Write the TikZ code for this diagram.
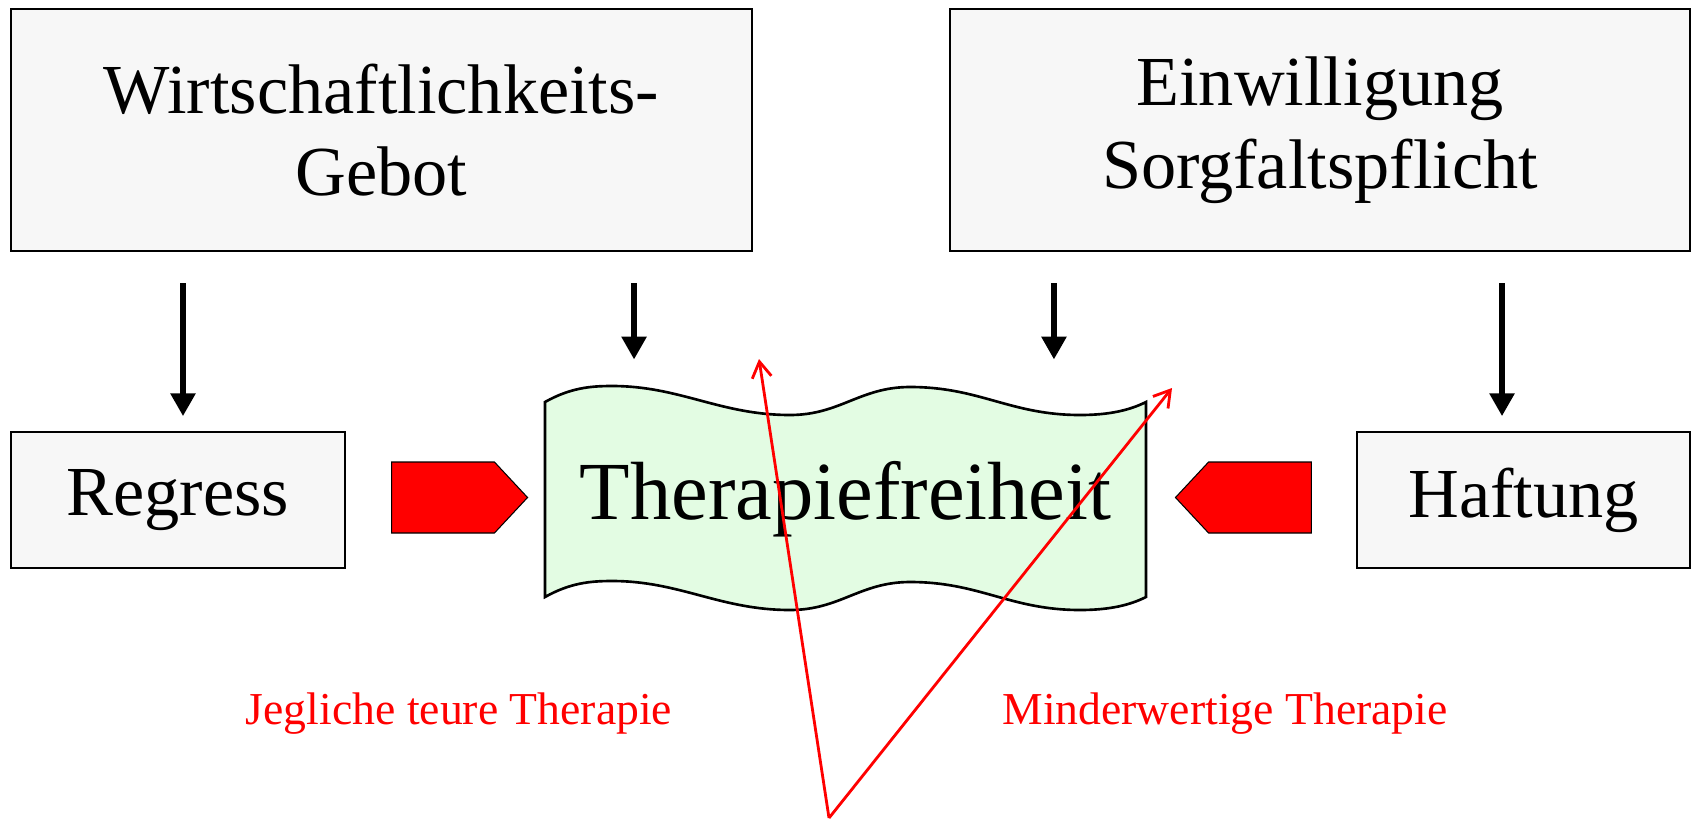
\documentclass[tikz,border=0pt]{standalone}
\usepackage{fontspec}
\setmainfont{Liberation Serif}
\usepackage{tikz}
\usetikzlibrary{shapes.symbols, positioning, calc}
\usetikzlibrary{arrows.meta}
\tikzset{>={Latex[width=2mm,length=2mm]}}
\definecolor{boxgray}{HTML}{F7F7F7}
\definecolor{tapegreen}{HTML}{E3FCE3}

\begin{document}
\begin{tikzpicture}[x=0.02cm, y=-0.02cm, box/.style={rectangle, draw=black, fill=boxgray, line width=1pt, inner sep=0pt, align=center, font=\fontsize{40}{47}\selectfont}, push/.style={signal, draw=black, fill=red, line width=0.6pt, minimum width=2.72cm, minimum height=1.42cm, signal pointer angle=94, inner sep=0pt}, blk/.style={-{Triangle[width=13.6pt,length=13pt]}, line width=3.4pt, shorten <=18pt}, redarr/.style={-{Straight Barb[width=11pt,length=9pt]}, draw=red, line width=1.6pt}, redtext/.style={text=red, font=\fontsize{26}{30}\selectfont}]
    \useasboundingbox (0,0) rectangle (1692,821);

    %Tape
    \filldraw[fill=tapegreen, draw=black, line width=1.5pt] (545,402) .. controls (570,388) and (590,386) .. (612,386) .. controls (680,386) and (720,415) .. (790,415) .. controls (840,415) and (860,387) .. (910,387) .. controls (980,387) and (1010,415) .. (1080,415) .. controls (1110,415) and (1130,410) .. (1146,402) -- (1146,597) .. controls (1130,605) and (1110,610) .. (1080,610) .. controls (1010,610) and (980,582) .. (910,582) .. controls (860,582) and (840,610) .. (790,610) .. controls (720,610) and (680,581) .. (612,581) .. controls (590,581) and (570,583) .. (545,597) -- cycle;

    %Nodes
    \node[box, minimum width=14.82cm, minimum height=4.84cm](wirt) at (381.5,130){Wirtschaftlichkeits-\\Gebot};
    \node[box, minimum width=14.8cm, minimum height=4.84cm](einw) at (1320,130){Einwilligung\\Sorgfaltspflicht};
    \node[box, minimum width=6.68cm, minimum height=2.72cm](regress) at (178,500){Regress};
    \node[box, minimum width=6.66cm, minimum height=2.72cm](haftung) at (1523.5,500){Haftung};
    \node[minimum width=12.02cm, minimum height=3.9cm, font=\fontsize{47}{56}\selectfont](ther) at (845.5,499.5){Therapiefreiheit};
    \node[push, signal to=east](pushl) at (443,497.5){};
    \node[push, signal to=west](pushr) at (1260,497.5){};
    \node[redtext](teuer) at (459,714){Jegliche teure Therapie};
    \node[redtext](minder) at (1225,714){Minderwertige Therapie};
    \coordinate (src) at (829,818);
    \coordinate (tipa) at (759,359);
    \coordinate (tipb) at (1172,388);

    %Lines
    \draw[blk, shorten >=8.5pt] ([xshift=0.1cm]regress.north |- wirt.south) -- ([xshift=0.1cm]regress.north);
    \draw[blk, shorten >=24pt] ([xshift=-4.23cm]ther.north |- wirt.south) -- ([xshift=-4.23cm]ther.north);
    \draw[blk, shorten >=24pt] ([xshift=4.17cm]ther.north |- einw.south) -- ([xshift=4.17cm]ther.north);
    \draw[blk, shorten >=8.5pt] ([xshift=-0.43cm]haftung.north |- einw.south) -- ([xshift=-0.43cm]haftung.north);
    \draw[redarr] (src) -- (tipa);
    \draw[redarr] (src) -- (tipb);

\end{tikzpicture}
\end{document}
